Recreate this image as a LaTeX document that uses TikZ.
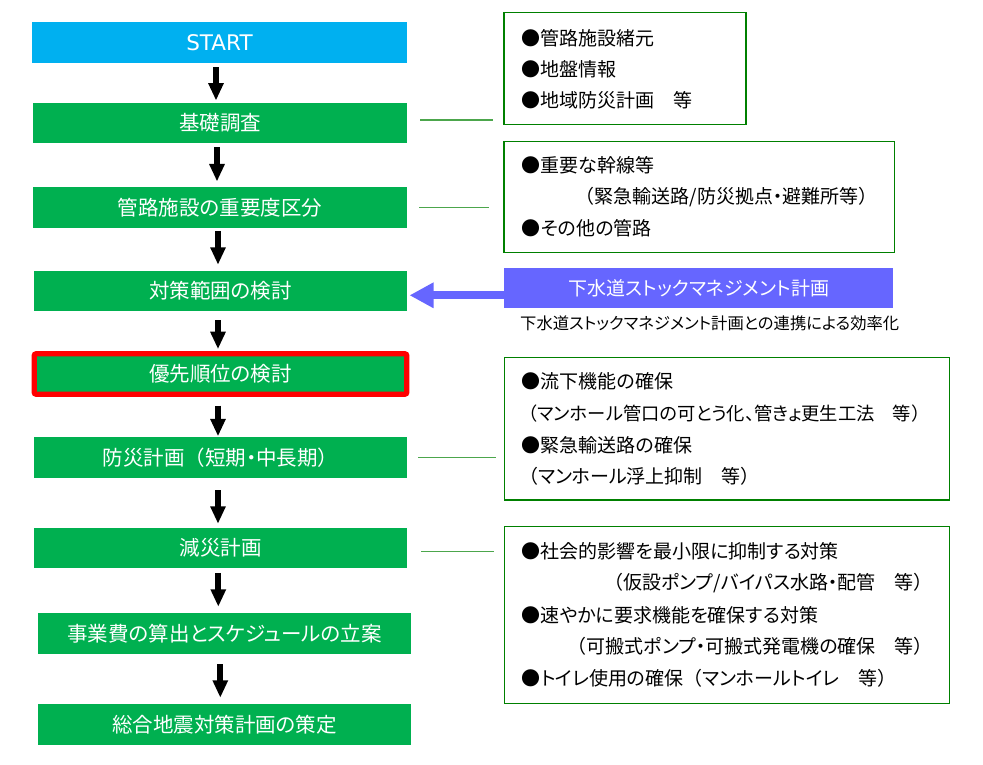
\documentclass[tikz,border=0pt]{standalone}
\usepackage{fontspec}
\setmainfont{Noto Sans CJK JP}[RawFeature=+palt]
\newfontfamily\fullwidth{Noto Sans CJK JP}
\newfontfamily\latinfont{DejaVu Sans}
\newcommand{\lpar}{{\fullwidth （}}
\newcommand{\rpar}{{\fullwidth ）}}
\usetikzlibrary{arrows.meta}
\definecolor{boxgreen}{HTML}{00B050}
\definecolor{startblue}{HTML}{00B0F0}
\definecolor{stockpurple}{HTML}{6666FF}
\definecolor{framegreen}{HTML}{008000}
\definecolor{linkgreen}{HTML}{4CA64C}
\definecolor{alertred}{HTML}{FF0000}
\begin{document}
\begin{tikzpicture}[x=1pt,y=-1pt]
\useasboundingbox (0,0) rectangle (983,765);
\tikzset{
  flowbox/.style={fill=boxgreen, text=white, inner sep=0pt, minimum width=374pt, minimum height=40.5pt, font=\fontsize{20.5}{24}\selectfont},
  infobox/.style={draw=framegreen, line width=1.2pt, inner sep=0pt},
  infotext/.style={anchor=west, inner sep=0pt, text=black, font=\fontsize{19}{23}\selectfont},
  infotextr/.style={infotext, anchor=east},
  flowarrow/.style={-{Triangle[width=14.5pt,length=17.5pt]}, line width=6.3pt, black},
  linkline/.style={draw=linkgreen, line width=1.2pt},
}
% left column
\node[flowbox, fill=startblue, minimum width=375pt, minimum height=40.7pt, font=\latinfont\fontsize{21.5}{25}\selectfont] (start) at (219.5,42.3) {START};
\node[flowbox] (kiso) at (220,123) {基礎調査};
\node[flowbox, minimum height=41pt] (kanro) at (220,207.5) {管路施設の重要度区分};
\node[flowbox, minimum width=373pt, minimum height=39.7pt] (taisaku) at (220.5,290.8) {対策範囲の検討};
\node[flowbox, draw=alertred, line width=5.3pt, rounded corners=2pt, minimum width=372.6pt, minimum height=40.4pt] (yusen) at (220.5,374) {優先順位の検討};
\node[flowbox, minimum width=373pt, minimum height=41pt] (bosai) at (220.5,457.5) {防災計画\lpar 短期・中長期\rpar};
\node[flowbox, minimum width=373pt, minimum height=39.7pt] (gensai) at (220.5,547.8) {減災計画};
\node[flowbox, minimum width=373pt, minimum height=40.7pt] (jigyo) at (224.5,633.3) {事業費の算出とスケジュールの立案};
\node[flowbox, minimum width=373pt, minimum height=40.7pt] (sogo) at (224.5,724.3) {総合地震対策計画の策定};
% flow arrows
\draw[flowarrow, shorten <=4.3pt, shorten >=2pt] ([xshift=-3.5pt]start.south) -- ([xshift=-3.5pt]start.south |- kiso.north);
\draw[flowarrow, shorten <=4pt, shorten >=5.3pt] ([xshift=-3pt]kiso.south) -- ([xshift=-3pt]kiso.south |- kanro.north);
\draw[flowarrow, shorten <=2.7pt, shorten >=6pt] ([xshift=-2pt]kanro.south) -- ([xshift=-2pt]kanro.south |- taisaku.north);
\draw[flowarrow, shorten <=9.3pt, shorten >=2pt] ([xshift=-2.5pt]taisaku.south) -- ([xshift=-2.5pt]taisaku.south |- yusen.north);
\draw[flowarrow, shorten <=8.8pt, shorten >=0.5pt] ([xshift=-2.5pt]yusen.south) -- ([xshift=-2.5pt]yusen.south |- bosai.north);
\draw[flowarrow, shorten <=12pt, shorten >=4pt] ([xshift=-2.5pt]bosai.south) -- ([xshift=-2.5pt]bosai.south |- gensai.north);
\draw[flowarrow, shorten <=5pt, shorten >=6pt] ([xshift=-2.2pt]gensai.south) -- ([xshift=-2.2pt]gensai.south |- jigyo.north);
\draw[flowarrow, shorten <=10.3pt, shorten >=6pt] ([xshift=-4.2pt]jigyo.south) -- ([xshift=-4.2pt]jigyo.south |- sogo.north);
% stock management
\node[fill=stockpurple, text=white, inner sep=0pt, minimum width=389pt, minimum height=40pt, font=\fontsize{19}{23}\selectfont] (stock) at (698.8,288.3) {下水道ストックマネジメント計画};
\node[infotext, font=\fontsize{16.3}{20}\selectfont] (stocknote) at (520,323.3) {下水道ストックマネジメント計画との連携による効率化};
\draw[-{Triangle[width=24pt,length=24pt]}, line width=8.3pt, stockpurple, shorten >=2.3pt] ([yshift=-7pt]stock.west) -- ([yshift=-7pt]stock.west -| taisaku.east);
% info boxes
\node[infobox, minimum width=242pt, minimum height=112pt] (infoA) at (625,68.3) {};
\node[infobox, minimum width=390.3pt, minimum height=111pt] (infoB) at (699.2,196.8) {};
\node[infobox, minimum width=445pt, minimum height=142.7pt] (infoC) at (726.8,428.7) {};
\node[infobox, minimum width=445pt, minimum height=176.6pt] (infoD) at (726.8,615) {};
% link lines
\draw[linkline, shorten <=13pt, shorten >=10pt] ([yshift=3pt]kiso.east) -- ([yshift=3pt]kiso.east -| infoA.west);
\draw[linkline, shorten <=12pt, shorten >=14pt] (kanro.east) -- (kanro.east -| infoB.west);
\draw[linkline, shorten <=11pt, shorten >=8pt] (bosai.east) -- (bosai.east -| infoC.west);
\draw[linkline, shorten <=14pt, shorten >=10pt] ([yshift=-3.7pt]gensai.east) -- ([yshift=-3.7pt]gensai.east -| infoD.west);
% info texts
\node[infotext] (tA1) at (521.7,38.3) {●管路施設緒元};
\node[infotext] (tA2) at (521.7,69.3) {●地盤情報};
\node[infotext] (tA3) at (521.7,100) {●地域防災計画　等};
\node[infotext] (tB1) at (521.7,165) {●重要な幹線等};
\node[infotextr] (tB2) at (878,197) {\lpar 緊急輸送路/防災拠点・避難所等\rpar};
\node[infotext] (tB3) at (521.7,228) {●その他の管路};
\node[infotext] (tC1) at (521.7,381.7) {●流下機能の確保};
\node[infotext, font=\fontsize{18.3}{22}\selectfont] (tC2) at (519,413.3) {\lpar マンホール管口の可とう化、管きょ更生工法　等\rpar};
\node[infotext] (tC3) at (521.7,445.7) {●緊急輸送路の確保};
\node[infotext] (tC4) at (519,476.7) {\lpar マンホール浮上抑制　等\rpar};
\node[infotext] (tD1) at (521.7,551.7) {●社会的影響を最小限に抑制する対策};
\node[infotextr] (tD2) at (933,583.3) {\lpar 仮設ポンプ/バイパス水路・配管　等\rpar};
\node[infotext] (tD3) at (521.7,615) {●速やかに要求機能を確保する対策};
\node[infotextr] (tD4) at (933,646.7) {\lpar 可搬式ポンプ・可搬式発電機の確保　等\rpar};
\node[infotext] (tD5) at (521.7,678.3) {●トイレ使用の確保\lpar マンホールトイレ　等\rpar};
\end{tikzpicture}
\end{document}
